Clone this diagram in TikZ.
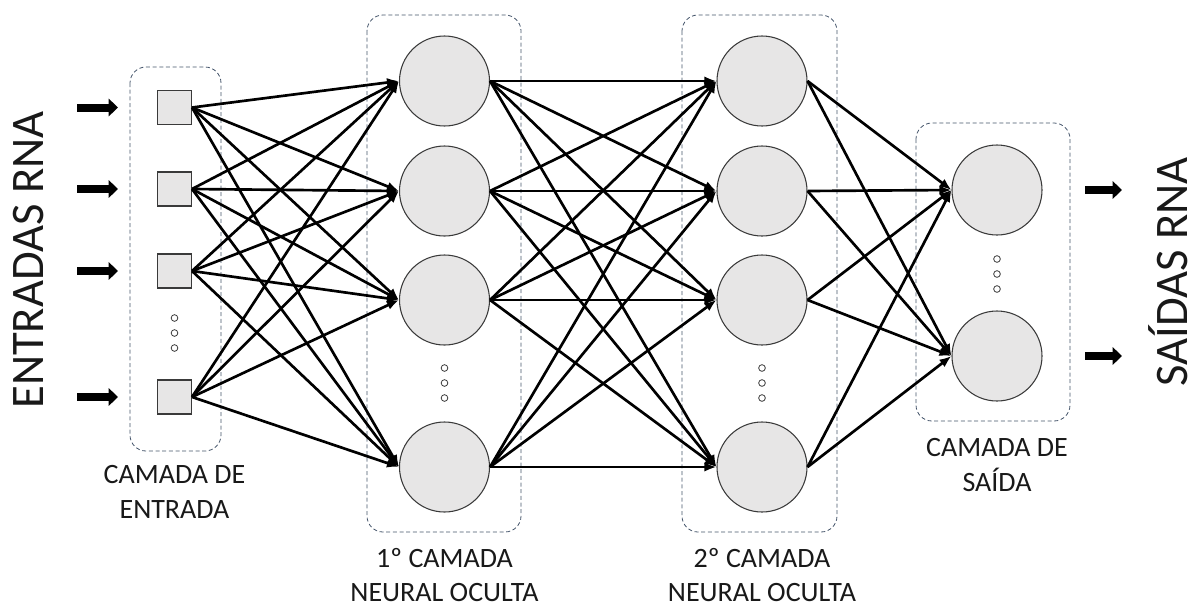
\documentclass[tikz,border=0pt]{standalone}
\usepackage{fontspec}
\setmainfont{Carlito}
\usetikzlibrary{arrows.meta}
\definecolor{nodefill}{HTML}{E7E6E6}
\definecolor{nodeedge}{HTML}{3A3A3A}
\definecolor{boxedge}{HTML}{44546A}
\tikzset{
  neuron/.style={circle, draw=nodeedge, line width=0.8pt, fill=nodefill, minimum size=67.5pt, inner sep=0pt},
  inputcell/.style={rectangle, draw=nodeedge, line width=0.8pt, fill=nodefill, minimum size=25.5pt, inner sep=0pt},
  ellipsisdot/.style={circle, draw=nodeedge, line width=0.6pt, fill=white, minimum size=5pt, inner sep=0pt},
  layerbox/.style={draw=boxedge, line width=0.6pt, dash pattern=on 3pt off 2pt, rounded corners=12pt},
  link/.style={line width=2pt, -{Latex[length=9pt,width=7pt]}},
  bigarrow/.style={line width=6pt, -{Triangle[length=7pt,width=13pt]}},
  caption/.style={align=center, font=\fontsize{21}{26}\selectfont, text=black!90},
  sidetitle/.style={rotate=90, anchor=base, inner sep=0pt, font=\fontsize{35}{42}\selectfont, text=black!90}
}
\begin{document}
\begin{tikzpicture}[x=0.75pt, y=-0.75pt]
\useasboundingbox (0,0) rectangle (1190,604);

% layer frames
\draw[layerbox] (130,67) rectangle (221,451);
\draw[layerbox] (367,15) rectangle (521,532);
\draw[layerbox] (682,15) rectangle (837,532);
\draw[layerbox] (916,123) rectangle (1070,421);

% input layer
\node[inputcell] (x1) at (174.5,107.5) {};
\node[inputcell] (x2) at (174.5,189) {};
\node[inputcell] (x3) at (174.5,271) {};
\node[inputcell] (x4) at (174.5,397) {};
\node[ellipsisdot] (xd1) at (174.5,318) {};
\node[ellipsisdot] (xd2) at (174.5,333) {};
\node[ellipsisdot] (xd3) at (174.5,348) {};

% first hidden layer
\node[neuron] (a1) at (444.5,81) {};
\node[neuron] (a2) at (444.5,191) {};
\node[neuron] (a3) at (444.5,300) {};
\node[neuron] (a4) at (444.5,467) {};
\node[ellipsisdot] (ad1) at (444.5,368) {};
\node[ellipsisdot] (ad2) at (444.5,383) {};
\node[ellipsisdot] (ad3) at (444.5,398) {};

% second hidden layer
\node[neuron] (b1) at (762,81) {};
\node[neuron] (b2) at (762,191) {};
\node[neuron] (b3) at (762,300) {};
\node[neuron] (b4) at (762,467) {};
\node[ellipsisdot] (bd1) at (762,368) {};
\node[ellipsisdot] (bd2) at (762,383) {};
\node[ellipsisdot] (bd3) at (762,398) {};

% output layer
\node[neuron] (y1) at (997,190) {};
\node[neuron] (y2) at (997,356) {};
\node[ellipsisdot] (yd1) at (997,259) {};
\node[ellipsisdot] (yd2) at (997,274) {};
\node[ellipsisdot] (yd3) at (997,289) {};

% weights
\foreach \i in {1,...,4}
  \foreach \j in {1,...,4}
    \draw[link] (x\i.east) -- (a\j.west);
\foreach \i in {1,...,4}
  \foreach \j in {1,...,4}
    \draw[link] (a\i.east) -- (b\j.west);
\foreach \i in {1,...,4}
  \foreach \j in {1,2}
    \draw[link] (b\i.east) -- (y\j.west);

% external inputs and outputs
\foreach \i/\yy in {1/107.5,2/189,3/271,4/397} {
  \coordinate (in\i) at (77,\yy);
  \coordinate (inend\i) at (118,\yy);
  \draw[bigarrow] (in\i) -- (inend\i);
}
\foreach \i/\yy in {1/190,2/356} {
  \coordinate (out\i) at (1085,\yy);
  \coordinate (outend\i) at (1122,\yy);
  \draw[bigarrow] (out\i) -- (outend\i);
}

% titles (baseline on the right-hand side of the rotated text)
\node[sidetitle] (tin) at (43,260) {ENTRADAS RNA};
\node[sidetitle] (tout) at (1187,272) {SAÍDAS RNA};

% layer captions
\node[caption] (cin) at (174.5,492) {CAMADA DE\\ENTRADA};
\node[caption] (ca) at (444.5,575) {1º CAMADA\\NEURAL OCULTA};
\node[caption] (cb) at (762,575) {2º CAMADA\\NEURAL OCULTA};
\node[caption] (cy) at (997,465) {CAMADA DE\\SAÍDA};
\end{tikzpicture}
\end{document}
